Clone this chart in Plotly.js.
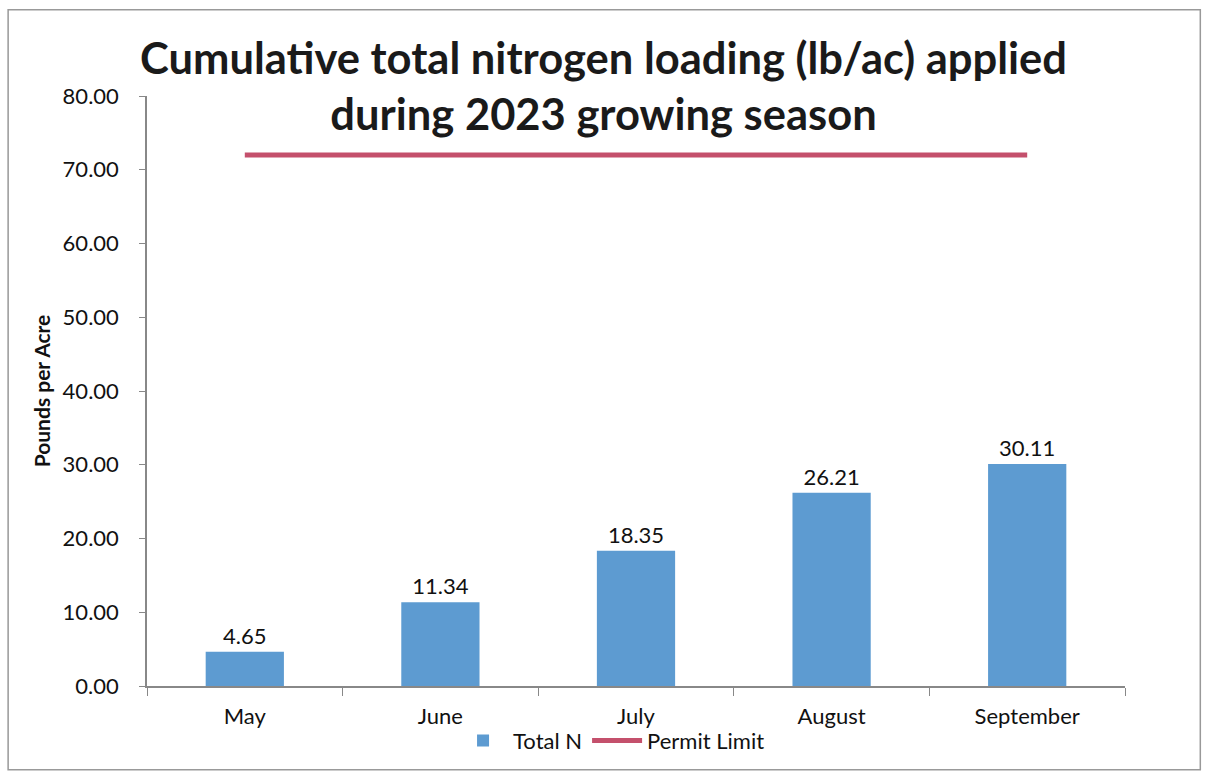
<!DOCTYPE html>
<html>
<head>
<meta charset="utf-8">
<script src="https://cdn.plot.ly/plotly-3.0.1.min.js"></script>
<style>html,body{margin:0;padding:0;background:#fff;}#chart{width:1207px;height:777px;}</style>
</head>
<body>
<div id="chart"></div>
<script>
const months = ["May", "June", "July", "August", "September"];
const totalN = [4.65, 11.34, 18.35, 26.21, 30.11];
const totalNLabels = ["4.65", "11.34", "18.35", "26.21", "30.11"];
const permitLimit = [72, 72, 72, 72, 72];
const yTicks = [0, 10, 20, 30, 40, 50, 60, 70, 80];
const yTickLabels = ["0.00", "10.00", "20.00", "30.00", "40.00", "50.00", "60.00", "70.00", "80.00"];

const font = "Lato, 'Open Sans', sans-serif";

const traces = [
  {
    type: "bar", name: "Total N", x: months, y: totalN,
    text: totalNLabels, textposition: "outside", cliponaxis: false,
    textfont: {family: font, size: 22, color: "#111"},
    marker: {color: "#5d9bd1"}, hoverinfo: "x+y"
  },
  {
    type: "scatter", mode: "lines", name: "Permit Limit", x: months, y: permitLimit,
    line: {color: "#c4506c", width: 5}
  }
];

const layout = {
  width: 1207, height: 777,
  margin: {l: 147, r: 82, t: 96, b: 91},
  paper_bgcolor: "#fff", plot_bgcolor: "#fff",
  font: {family: font, color: "#111"},
  title: {
    text: "<b>Cumulative total nitrogen loading (lb/ac) applied<br>during 2023 growing season</b>",
    font: {family: font, size: 43.5, color: "#1a1a1a"},
    x: 0.5, xanchor: "center", xref: "container", yref: "container", y: 0.905, yanchor: "middle"
  },
  bargap: 0.6,
  showlegend: true,
  legend: {orientation: "h", x: 0.475, xanchor: "center", y: -0.057, yanchor: "top",
           bgcolor: "rgba(0,0,0,0)", itemwidth: 50,
           font: {family: font, size: 22, color: "#111"}},
  xaxis: {
    type: "category", showline: true, linecolor: "#888", linewidth: 1.5,
    ticks: "outside", ticklen: 8, tickcolor: "#888", tickson: "boundaries",
    ticklabelstandoff: 10,
    tickfont: {family: font, size: 22, color: "#111"}, showgrid: false
  },
  yaxis: {
    range: [0, 80], tickvals: yTicks, ticktext: yTickLabels,
    showline: true, linecolor: "#888", linewidth: 1.5,
    ticks: "outside", ticklen: 6, tickcolor: "#888", ticklabelstandoff: 16,
    tickfont: {family: font, size: 22, color: "#111"}, showgrid: false, zeroline: false,
    title: {text: "<b>Pounds per Acre</b>", font: {family: font, size: 21, color: "#111"}, standoff: 6}
  },
  shapes: [
    {type: "rect", xref: "paper", yref: "paper", x0: -0.142, x1: 1.077, y0: -0.142, y1: 1.146,
     line: {color: "#999", width: 1.5}, fillcolor: "rgba(0,0,0,0)"}
  ]
};

Plotly.newPlot("chart", traces, layout, {displayModeBar: false});
</script>
</body>
</html>
